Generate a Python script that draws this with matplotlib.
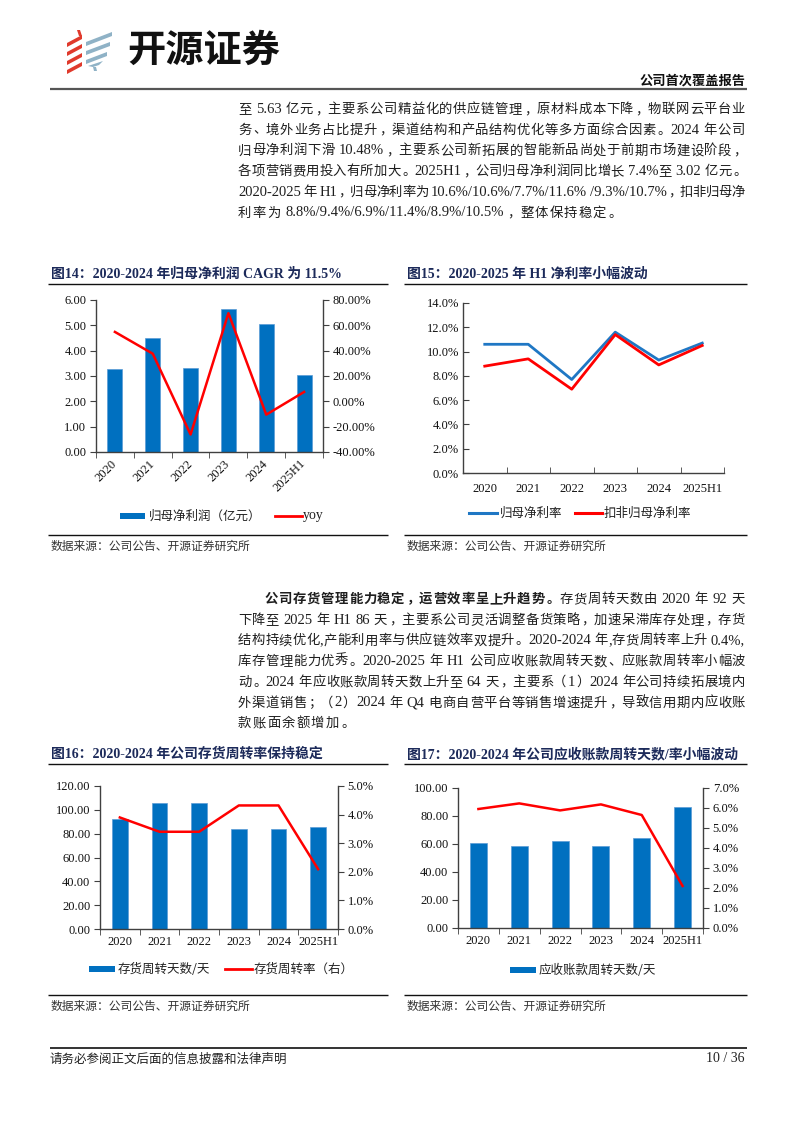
import numpy as np
import matplotlib
matplotlib.use('Agg')
import matplotlib.pyplot as plt
from matplotlib.patches import Polygon, Rectangle
from matplotlib.ticker import FormatStrFormatter

plt.rcParams['font.family'] = ['Liberation Serif', 'Noto Sans CJK SC']

# ---------------- data ----------------
years = ['2020', '2021', '2022', '2023', '2024', '2025H1']

# 图14 归母净利润（亿元）与同比
net_profit = [3.27, 4.50, 3.32, 5.63, 5.04, 3.02]
net_profit_yoy = [54.8, 37.6, -26.2, 69.6, -10.5, 7.4]

# 图15 净利率
net_margin = [10.6, 10.6, 7.7, 11.6, 9.3, 10.7]
net_margin_ded = [8.8, 9.4, 6.9, 11.4, 8.9, 10.5]

# 图16 存货周转
inv_days = [92, 106, 106, 84, 84, 86]
inv_turn = [3.90, 3.40, 3.40, 4.32, 4.32, 2.09]

# 图17 应收账款周转
ar_days = [61.0, 58.3, 61.9, 58.8, 64.3, 86.6]
ar_turn = [5.95, 6.23, 5.88, 6.18, 5.65, 2.10]

para1 = [
    [("至 5.63 亿元，主要系公司精益化的供应链管理，原材料成本下降，物联网云平台业", False)],
    [("务、境外业务占比提升，渠道结构和产品结构优化等多方面综合因素。2024 年公司", False)],
    [("归母净利润下滑 10.48%，主要系公司新拓展的智能新品尚处于前期市场建设阶段，", False)],
    [("各项营销费用投入有所加大。2025H1，公司归母净利润同比增长 7.4%至 3.02 亿元。", False)],
    [("2020-2025 年 H1，归母净利率为 10.6%/10.6%/7.7%/11.6% /9.3%/10.7%，扣非归母净", False)],
    [("利率为 8.8%/9.4%/6.9%/11.4%/8.9%/10.5%，整体保持稳定。", False)],
]
para2 = [
    [("公司存货管理能力稳定，运营效率呈上升趋势。", True), ("存货周转天数由 2020 年 92 天", False)],
    [("下降至 2025 年 H1 86 天，主要系公司灵活调整备货策略，加速呆滞库存处理，存货", False)],
    [("结构持续优化,产能利用率与供应链效率双提升。2020-2024 年,存货周转率上升 0.4%,", False)],
    [("库存管理能力优秀。2020-2025 年 H1 公司应收账款周转天数、应账款周转率小幅波", False)],
    [("动。2024 年应收账款周转天数上升至 64 天，主要系（1）2024 年公司持续拓展境内", False)],
    [("外渠道销售；（2）2024 年 Q4 电商自营平台等销售增速提升，导致信用期内应收账", False)],
    [("款账面余额增加。", False)],
]

BLUE = '#0070C0'
LBLUE = '#1F77C4'
RED = '#FF0000'
NAVY = '#1C2A5A'
SPINE = '#404040'
TXT = '#1E1E1E'

W, H = 794, 1123
fig = plt.figure(figsize=(W / 100, H / 100), dpi=100)
page = fig.add_axes([0, 0, 1, 1])
page.set_xlim(0, W)
page.set_ylim(H, 0)
page.axis('off')
renderer = fig.canvas.get_renderer()


def axes_px(x0, y0, x1, y1):
    return fig.add_axes([x0 / W, 1 - y1 / H, (x1 - x0) / W, (y1 - y0) / H])


# ---------------- body text with justification ----------------
CJK_SIZE = 9.6
LAT_SIZE = 10.5
CJK_ADV = CJK_SIZE * 100 / 72
PUNCT = '，。、；：'


def is_cjk(ch):
    return ord(ch) >= 0x2E80


def split_tokens(segments):
    toks = []
    for s, bold in segments:
        buf = ''
        for ch in s:
            if ch == ' ' or is_cjk(ch):
                if buf:
                    toks.append((buf, 'l', bold))
                    buf = ''
                toks.append((ch, 's' if ch == ' ' else 'c', bold))
            else:
                buf += ch
        if buf:
            toks.append((buf, 'l', bold))
    return toks


_wcache = {}


def tok_width(tok):
    s, kind, bold = tok
    if kind == 'c':
        return CJK_ADV
    if kind == 's':
        return 3.2
    if tok not in _wcache:
        t = page.text(0, 0, s, fontsize=LAT_SIZE, family='Liberation Serif',
                      weight='bold' if bold else 'normal')
        _wcache[tok] = t.get_window_extent(renderer).width
        t.remove()
    return _wcache[tok]


def draw_line(segments, x0, x1, y, justify=True):
    toks = split_tokens(segments)
    widths = [tok_width(t) for t in toks]
    natural = sum(widths)
    gap = (x1 - x0 - natural) / (len(toks) - 1) if justify else 1.2
    x = x0
    base = y + 5
    for (s, kind, bold), w in zip(toks, widths):
        wt = 'bold' if bold else 'normal'
        if kind == 'c':
            if s in PUNCT:
                page.text(x + 0.1 * w, base, s, fontsize=CJK_SIZE, family='Noto Sans CJK SC',
                          weight=wt, color=TXT, ha='left', va='baseline')
            elif s == '（':
                page.text(x + 0.95 * w, base, s, fontsize=CJK_SIZE, family='Noto Sans CJK SC',
                          weight=wt, color=TXT, ha='right', va='baseline')
            elif s == '）':
                page.text(x + 0.05 * w, base, s, fontsize=CJK_SIZE, family='Noto Sans CJK SC',
                          weight=wt, color=TXT, ha='left', va='baseline')
            else:
                page.text(x + w / 2, base, s, fontsize=CJK_SIZE, family='Noto Sans CJK SC',
                          weight=wt, color=TXT, ha='center', va='baseline')
        elif kind == 'l':
            page.text(x, base, s, fontsize=LAT_SIZE, family='Liberation Serif',
                      weight=wt, color=TXT, ha='left', va='baseline')
        x += w + gap


for i, ln in enumerate(para1):
    draw_line(ln, 238, 745, 108 + i * 20.7, justify=(i < len(para1) - 1))
for i, ln in enumerate(para2):
    draw_line(ln, 265 if i == 0 else 238, 745, 598 + i * 20.7, justify=(i < len(para2) - 1))

# ---------------- header / footer ----------------
red_strokes = [[(67, 43), (82, 35), (82, 39), (67, 47)],
               [(67, 52), (82, 44), (82, 48), (67, 56)],
               [(67, 61), (82, 53), (82, 57), (67, 65)],
               [(67, 70), (82, 62), (82, 66), (67, 74)],
               [(77, 30), (80, 30), (82, 36), (79, 36)]]
for pts in red_strokes:
    page.add_patch(Polygon(pts, closed=True, color='#E03A2C', lw=0))
blue_strokes = [[(86, 42), (112, 32), (112, 36), (86, 46)],
                [(86, 51), (110, 42), (110, 46), (86, 55)],
                [(86, 60), (107, 52), (107, 56), (86, 64)],
                [(88, 66), (103, 61), (99, 65), (93, 67)],
                [(93, 67), (96, 67), (97, 71), (94, 71)]]
for pts in blue_strokes:
    page.add_patch(Polygon(pts, closed=True, color='#8FB2C6', lw=0))
page.text(127, 50, '开源证券', fontsize=27.5, family='Noto Sans CJK SC', weight='bold',
          color='#111111', ha='left', va='center')
page.text(745, 81, '公司首次覆盖报告', fontsize=9.5, family='Noto Sans CJK SC', weight='bold',
          color='#111111', ha='right', va='center')
page.plot([50, 747], [89, 89], color='#555555', lw=1.6, solid_capstyle='butt')

page.plot([50, 747], [1048, 1048], color='#111111', lw=1.2, solid_capstyle='butt')
page.text(50, 1059, '请务必参阅正文后面的信息披露和法律声明', fontsize=9, family='Noto Sans CJK SC',
          color='#222222', ha='left', va='center')
page.text(745, 1059, '10 / 36', fontsize=10, family='Liberation Serif',
          color='#222222', ha='right', va='center')


# ---------------- chart frames ----------------
def frame(x0, x1, y_title, y_line, y_bottom, title):
    page.text(x0 + 3, y_title, title, fontsize=10, weight='bold', color=NAVY,
              ha='left', va='center')
    page.plot([x0, x1], [y_line, y_line], color='#111111', lw=1, solid_capstyle='butt')
    page.plot([x0, x1], [y_bottom, y_bottom], color='#111111', lw=1, solid_capstyle='butt')
    page.text(x0 + 3, y_bottom + 11, '数据来源：公司公告、开源证券研究所', fontsize=8.5,
              family='Noto Sans CJK SC', color='#333333', ha='left', va='center')


frame(48, 388, 274, 284, 535, '图14：2020-2024 年归母净利润 CAGR 为 11.5%')
frame(404, 747, 274, 284, 535, '图15：2020-2025 年 H1 净利率小幅波动')
frame(48, 388, 754, 764, 995, '图16：2020-2024 年公司存货周转率保持稳定')
frame(404, 747, 754, 764, 995, '图17：2020-2024 年公司应收账款周转天数/率小幅波动')


def style_ax(ax, ymax, ystep, fmt, tick_dir='out', label_pad=5):
    x = np.arange(len(years))
    ax.set_xlim(-0.5, len(years) - 0.5)
    ax.set_ylim(0, ymax)
    ax.set_yticks(np.arange(0, ymax + ystep / 2, ystep))
    ax.yaxis.set_major_formatter(FormatStrFormatter(fmt))
    ax.set_xticks(x)
    ax.set_xticklabels(years)
    ax.set_xticks(np.arange(-0.5, len(years), 1), minor=True)
    ax.tick_params(axis='x', which='major', length=0, labelsize=9, pad=label_pad,
                   labelcolor='#111111')
    ax.tick_params(axis='x', which='minor', length=4, direction=tick_dir, color=SPINE)
    ax.tick_params(axis='y', length=4, direction=tick_dir, labelsize=9, color=SPINE,
                   labelcolor='#111111', pad=3)
    ax.spines['top'].set_visible(False)
    ax.spines['right'].set_visible(False)
    for s in ['left', 'bottom']:
        ax.spines[s].set_color(SPINE)
        ax.spines[s].set_linewidth(1)
    ax.set_facecolor('none')
    return x


def right_axis(ax, lo, hi, step, fmt):
    ax2 = ax.twinx()
    ax2.set_ylim(lo, hi)
    ax2.set_yticks(np.arange(lo, hi + step / 2, step))
    ax2.yaxis.set_major_formatter(FormatStrFormatter(fmt))
    ax2.tick_params(axis='y', length=4, direction='out', labelsize=9, color=SPINE,
                    labelcolor='#111111', pad=3)
    for s in ['top', 'left', 'bottom']:
        ax2.spines[s].set_visible(False)
    ax2.spines['right'].set_color(SPINE)
    ax2.spines['right'].set_linewidth(1)
    return ax2


# 图14
ax = axes_px(96, 300, 323, 452)
x = style_ax(ax, 6, 1, '%.2f', label_pad=7)
ax.bar(x, net_profit, width=0.4, color=BLUE, edgecolor='#5B9BD5', lw=0.5)
for lbl in ax.get_xticklabels():
    lbl.set_rotation(45)
    lbl.set_ha('right')
    lbl.set_va('center')
    lbl.set_rotation_mode('anchor')
ax2 = right_axis(ax, -40, 80, 20, '%.2f%%')
ax2.plot(x, net_profit_yoy, color=RED, lw=1.8)
page.add_patch(Rectangle((120, 513), 25, 6, color=BLUE, lw=0))
page.text(149, 516, '归母净利润（亿元）', fontsize=9, family='Noto Sans CJK SC',
          color='#222222', va='center')
page.plot([275, 302], [516, 516], color=RED, lw=2)
page.text(303, 515, 'yoy', fontsize=10, family='Liberation Serif', color='#222222',
          va='center')

# 图15
ax = axes_px(463, 303, 724, 473)
x = style_ax(ax, 14, 2, '%.1f%%', tick_dir='in', label_pad=7)
ax.plot(x, net_margin, color=LBLUE, lw=2)
ax.plot(x, net_margin_ded, color=RED, lw=2)
page.plot([469, 497], [513, 513], color=LBLUE, lw=2.2)
page.text(500, 513, '归母净利率', fontsize=9, family='Noto Sans CJK SC', color='#222222',
          va='center')
page.plot([575, 602], [513, 513], color=RED, lw=2.2)
page.text(604, 513, '扣非归母净利率', fontsize=9, family='Noto Sans CJK SC',
          color='#222222', va='center')

# 图16
ax = axes_px(100, 786, 338, 929)
x = style_ax(ax, 120, 20, '%.2f', label_pad=5)
ax.bar(x, inv_days, width=0.4, color=BLUE, edgecolor='#5B9BD5', lw=0.5)
ax2 = right_axis(ax, 0, 5, 1, '%.1f%%')
ax2.plot(x, inv_turn, color=RED, lw=1.8)
page.add_patch(Rectangle((89, 966), 26, 6, color=BLUE, lw=0))
page.text(118, 969, '存货周转天数/天', fontsize=9, family='Noto Sans CJK SC',
          color='#222222', va='center')
page.plot([225, 252], [969, 969], color=RED, lw=2)
page.text(254, 969, '存货周转率（右）', fontsize=9, family='Noto Sans CJK SC',
          color='#222222', va='center')

# 图17
ax = axes_px(458, 788, 703, 928)
x = style_ax(ax, 100, 20, '%.2f', label_pad=5)
ax.bar(x, ar_days, width=0.42, color=BLUE, edgecolor='#5B9BD5', lw=0.5)
ax2 = right_axis(ax, 0, 7, 1, '%.1f%%')
ax2.plot(x, ar_turn, color=RED, lw=1.8)
page.add_patch(Rectangle((510, 967), 26, 6, color=BLUE, lw=0))
page.text(539, 970, '应收账款周转天数/天', fontsize=9, family='Noto Sans CJK SC',
          color='#222222', va='center')

fig.savefig('out.png', dpi=100)
